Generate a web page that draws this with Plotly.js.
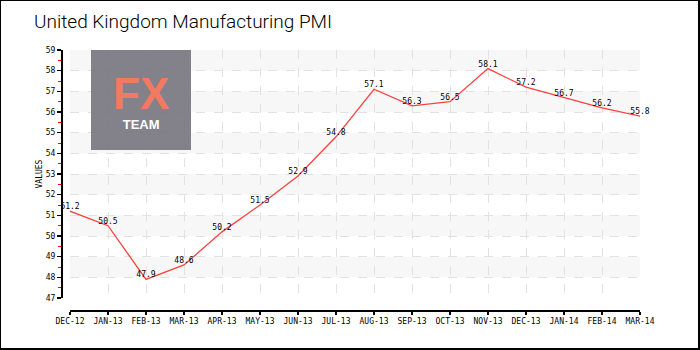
<!DOCTYPE html>
<html>
<head>
<meta charset="utf-8">
<script src="https://cdn.plot.ly/plotly-3.0.1.min.js"></script>
<style>
html,body{margin:0;padding:0;background:#fff;}
#chart{width:697px;height:347px;border-style:solid;border-color:#000;border-width:1px 2px 2px 1px;}
</style>
</head>
<body>
<div id="chart"></div>
<script>
const months = ["DEC-12","JAN-13","FEB-13","MAR-13","APR-13","MAY-13","JUN-13","JUL-13","AUG-13","SEP-13","OCT-13","NOV-13","DEC-13","JAN-14","FEB-14","MAR-14"];
const pmi = [51.2,50.5,47.9,48.6,50.2,51.5,52.9,54.8,57.1,56.3,56.5,58.1,57.2,56.7,56.2,55.8];
const yTicks = [47,48,49,50,51,52,53,54,55,56,57,58,59];

const xIdx = months.map((m,i)=>i);
const labelFont = {family:"DejaVu Sans Mono, monospace", size:8, color:"#000"};

const shapes = [];
// alternating light bands
for (let i = 1; i < yTicks.length - 1; i += 2) {
  shapes.push({type:"rect", xref:"x domain", x0:0, x1:1, yref:"y", y0:yTicks[i], y1:yTicks[i+1],
    fillcolor:"#f7f7f7", line:{width:0}, layer:"below"});
}
// logo box
shapes.push({type:"rect", xref:"x domain", yref:"y domain", x0:21/570, x1:121/570, y0:148/248, y1:248/248,
  fillcolor:"rgb(122,121,130)", opacity:0.93, line:{width:0}, layer:"above"});

const trace = {
  x: xIdx, y: pmi, type:"scatter", mode:"lines+text",
  text: pmi.map(v=>v.toFixed(1)), textposition:"top center",
  textfont: labelFont,
  line:{color:"#ff4040", width:1.3},
  hoverinfo:"skip", cliponaxis:false
};

const layout = {
  width:697, height:347,
  margin:{l:60, r:58, t:49, b:38},
  paper_bgcolor:"#fff", plot_bgcolor:"rgba(0,0,0,0)",
  showlegend:false,
  title:{text:"United Kingdom Manufacturing PMI", xref:"container", yref:"container",
    x:33/697, xanchor:"left", y:1-20/347, yanchor:"middle",
    font:{family:"Roboto, sans-serif", size:19, weight:300, color:"#000"}},
  xaxis:{
    domain:[9/579,1], range:[0,15], anchor:"free", position:0,
    tickmode:"array", tickvals:xIdx, ticktext:months,
    showgrid:true, gridcolor:"#e2e2e2", griddash:"dash", gridwidth:1,
    zeroline:false, showline:true, linecolor:"#000", linewidth:1.5,
    ticks:"outside", ticklen:3, tickcolor:"#000", tickwidth:1.5,
    tickfont:labelFont, fixedrange:true
  },
  yaxis:{
    domain:[12/260,1], range:[47,59], anchor:"free", position:0,
    tickmode:"array", tickvals:yTicks,
    showgrid:true, gridcolor:"#e2e2e2", griddash:"dash", gridwidth:1,
    zeroline:false, showline:true, linecolor:"#000", linewidth:1.5,
    ticks:"outside", ticklen:4, tickcolor:"#000", tickwidth:1.5,
    minor:{dtick:0.5, ticks:"outside", ticklen:3, tickcolor:"#ff0000", tickwidth:1, showgrid:false},
    tickfont:labelFont,
    title:{text:"VALUES", font:labelFont, standoff:0},
    fixedrange:true
  },
  shapes: shapes,
  annotations:[
    {text:"<span style='font-size:44px;color:#f27a62'><b>FX</b></span><br><span style='font-size:13px'><b>TEAM</b></span>",
     xref:"x domain", yref:"y domain", x:71/570, y:(248-50)/248, xanchor:"center", yanchor:"middle",
     showarrow:false, font:{family:"Liberation Sans, Arial, sans-serif", size:15, color:"#fff"}}
  ]
};

Plotly.newPlot("chart", [trace], layout, {displayModeBar:false, staticPlot:true});
</script>
</body>
</html>
